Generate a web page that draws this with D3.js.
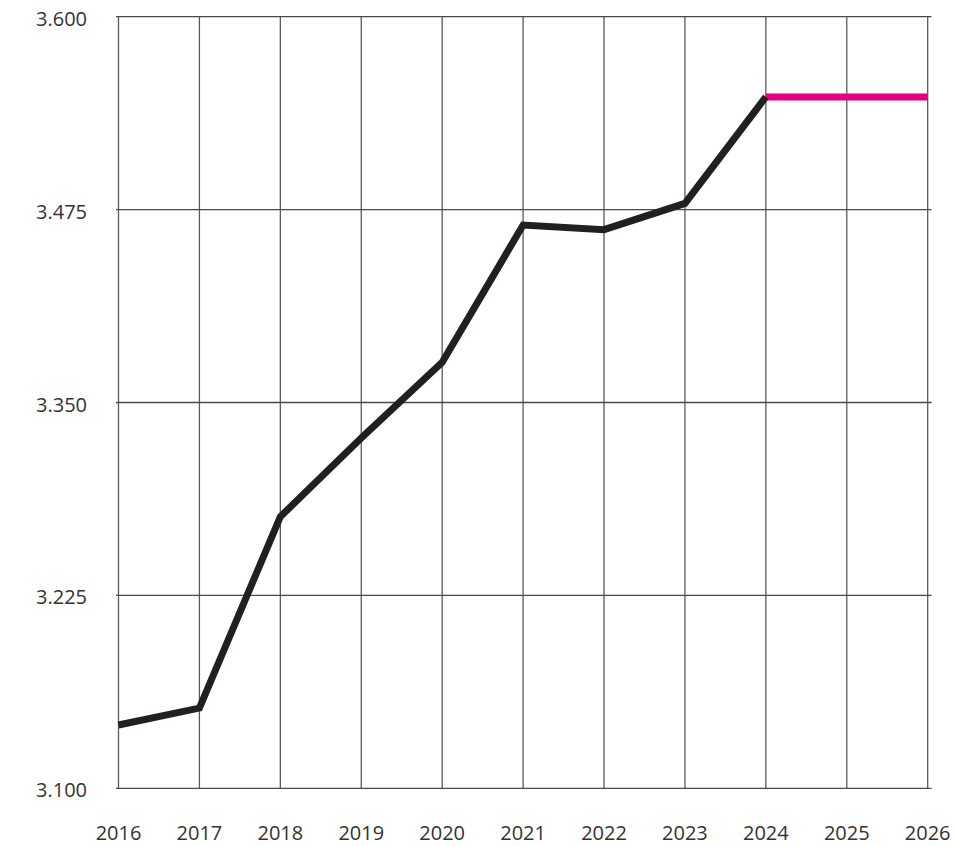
<!DOCTYPE html>
<html>
<head>
<meta charset="utf-8">
<script src="https://cdn.jsdelivr.net/npm/d3@7"></script>
<style>
  body { margin: 0; background: #fff; }
  svg text { font-family: "Open Sans", sans-serif; font-size: 20px; fill: #333; }
</style>
</head>
<body>
<svg id="chart" width="955" height="846"></svg>
<script>
// data
var years = [2016, 2017, 2018, 2019, 2020, 2021, 2022, 2023, 2024];
var values = [3.141, 3.152, 3.276, 3.327, 3.376, 3.465, 3.462, 3.479, 3.548];
var forecastYears = [2024, 2025, 2026];
var forecastValues = [3.548, 3.548, 3.548];
var yTicks = [3.100, 3.225, 3.350, 3.475, 3.600];
var xTicks = [2016, 2017, 2018, 2019, 2020, 2021, 2022, 2023, 2024, 2025, 2026];

var svg = d3.select("#chart");

var x = d3.scaleLinear().domain([2016, 2026]).range([118.5, 927.7]);
var y = d3.scaleLinear().domain([3.1, 3.6]).range([788.3, 16.7]);

// vertical grid
svg.append("g").selectAll("line")
    .data(xTicks)
    .join("line")
    .attr("x1", d => x(d)).attr("x2", d => x(d))
    .attr("y1", y(3.6)).attr("y2", y(3.1))
    .attr("stroke", "#5a5a5a")
    .attr("stroke-width", 1.3);

// horizontal grid
svg.append("g").selectAll("line")
    .data(yTicks)
    .join("line")
    .attr("x1", 116).attr("x2", 931.5)
    .attr("y1", d => y(d)).attr("y2", d => y(d))
    .attr("stroke", "#4a4a4a")
    .attr("stroke-width", 1.3);

// y labels
svg.append("g").selectAll("text")
    .data(yTicks)
    .join("text")
    .attr("x", 87)
    .attr("y", d => y(d) + 9)
    .attr("text-anchor", "end")
    .text(d => d3.format(".3f")(d));

// x labels (kept just inside the bottom edge)
svg.append("g").selectAll("text")
    .data(xTicks)
    .join("text")
    .attr("x", d => x(d))
    .attr("y", 839.5)
    .attr("text-anchor", "middle")
    .text(d => d);

var line = d3.line()
    .x(d => x(d[0]))
    .y(d => y(d[1]));

svg.append("path")
    .datum(d3.zip(forecastYears, forecastValues))
    .attr("d", line)
    .attr("fill", "none")
    .attr("stroke", "#e6007e")
    .attr("stroke-width", 7);

svg.append("path")
    .datum(d3.zip(years, values))
    .attr("d", line)
    .attr("fill", "none")
    .attr("stroke", "#231f20")
    .attr("stroke-width", 7)
    .attr("stroke-linejoin", "miter");
</script>
</body>
</html>
